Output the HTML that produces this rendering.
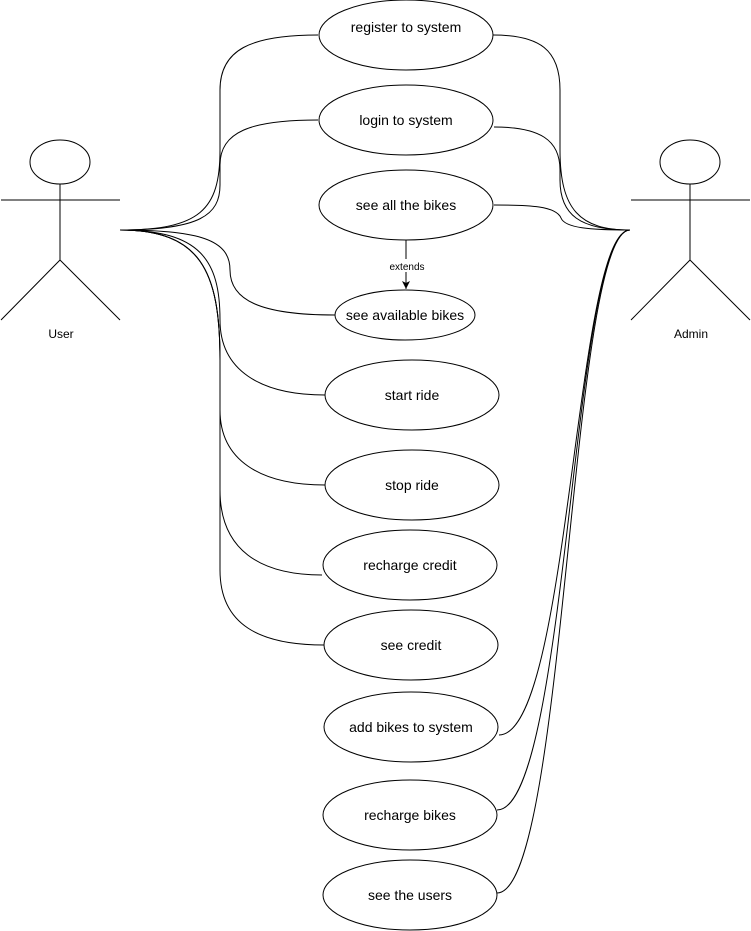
<!DOCTYPE html>
<html><head><meta charset="utf-8"><style>
html,body{margin:0;padding:0;background:#fff;}
svg{display:block;}
text{font-family:"Liberation Sans",Arial,sans-serif;font-size:14px;fill:#000;}
</style></head><body>
<svg width="751" height="931" viewBox="0 0 751 931" xmlns="http://www.w3.org/2000/svg">
<defs><marker id="ar" markerWidth="10" markerHeight="10" refX="8" refY="5" orient="auto" markerUnits="userSpaceOnUse"><path d="M0,1 L8,5 L0,9 L2,5 Z" fill="#000"/></marker></defs>
<g fill="none" stroke="#000" stroke-width="1">
<path d="M120,230 C200,230 220,210 220,150 L220,90 C220,50 250,35 318,35"/>
<path d="M120,230 C200,230 220,215 220,185 L220,165 C220,132 250,120 318,120"/>
<path d="M120,230 C200,230 230,240 230,270 C230,300 260,315 335,315"/>
<path d="M120,230 C200,230 220,260 220,320 C220,370 260,395 325,395"/>
<path d="M120,230 C200,230 220,270 220,360 L220,410 C220,460 260,485 325,485"/>
<path d="M120,230 C200,230 220,270 220,360 L220,490 C220,550 260,575 322,575"/>
<path d="M120,230 C200,230 220,270 220,360 L220,570 C220,625 260,645 324,645"/>
<path d="M630,230 C580,230 560,210 560,150 L560,90 C560,50 540,35 493,35"/>
<path d="M630,230 C580,230 560,215 560,180 L560,170 C560,140 540,127 494,127"/>
<path d="M630,230 C590,230 565,228 561,218 C556,206 530,205 494,205"/>
<path d="M630,230 C575,230 570,735 499,735"/>
<path d="M630,230 C572,230 568,810 497,810"/>
<path d="M630,230 C570,230 566,893 497,893"/>
<ellipse cx="406" cy="35" rx="87" ry="35" fill="#fff"/>
<ellipse cx="406" cy="120" rx="87" ry="35" fill="#fff"/>
<ellipse cx="406" cy="205" rx="87" ry="35" fill="#fff"/>
<ellipse cx="405" cy="315" rx="70" ry="25" fill="#fff"/>
<ellipse cx="412" cy="395" rx="87" ry="35" fill="#fff"/>
<ellipse cx="412" cy="485" rx="87" ry="35" fill="#fff"/>
<ellipse cx="410" cy="565" rx="87" ry="35" fill="#fff"/>
<ellipse cx="411" cy="645" rx="87" ry="35" fill="#fff"/>
<ellipse cx="411" cy="727" rx="87" ry="35" fill="#fff"/>
<ellipse cx="410" cy="815" rx="87" ry="35" fill="#fff"/>
<ellipse cx="410" cy="895" rx="87" ry="35" fill="#fff"/>
<path d="M406,240 L406,289" marker-end="url(#ar)"/>
<ellipse cx="60" cy="162" rx="30" ry="22"/>
<path d="M60,184 V260 M1,200 H120 M60,260 L1,320 M60,260 L120,320"/>
<ellipse cx="690" cy="162" rx="30" ry="22"/>
<path d="M690,184 V260 M631,200 H750 M690,260 L631,320 M690,260 L750,320"/>
</g>
<rect x="386" y="259" width="42" height="13" fill="#fff"/>
<text x="407" y="270" text-anchor="middle" style="font-size:10px">extends</text>
<g text-anchor="middle">
<text x="406" y="32">register to system</text>
<text x="406" y="125">login to system</text>
<text x="406" y="210">see all the bikes</text>
<text x="405" y="320">see available bikes</text>
<text x="412" y="400">start ride</text>
<text x="412" y="490">stop ride</text>
<text x="410" y="570">recharge credit</text>
<text x="411" y="650">see credit</text>
<text x="411" y="732">add bikes to system</text>
<text x="410" y="820">recharge bikes</text>
<text x="410" y="900">see the users</text>
<text x="61" y="338" style="font-size:12px">User</text>
<text x="691" y="338" style="font-size:12px">Admin</text>
</g>
</svg>
</body></html>
